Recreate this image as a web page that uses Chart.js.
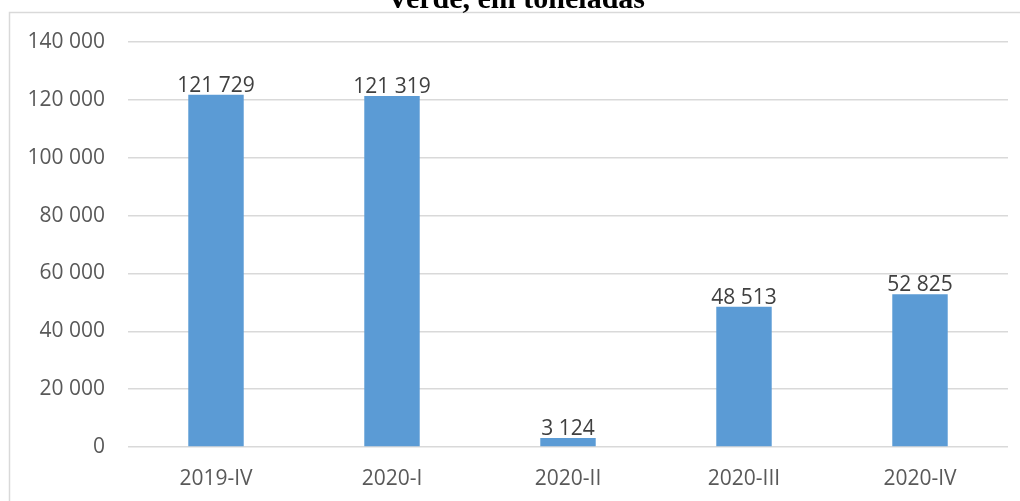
<!DOCTYPE html>
<html>
<head>
<meta charset="utf-8">
<script src="https://cdn.jsdelivr.net/npm/chart.js@4"></script>
<style>
  html, body { margin: 0; padding: 0; background: #fff; }
  #wrap { position: relative; width: 1020px; height: 501px; }
</style>
</head>
<body>
<div id="wrap"><canvas id="chart"></canvas></div>
<script>
/* ===== DATA ===== */
const categories = ['2019-IV', '2020-I', '2020-II', '2020-III', '2020-IV'];
const tonnes = [121729, 121319, 3124, 48513, 52825];
const yTicks = [0, 20000, 40000, 60000, 80000, 100000, 120000, 140000];
const titleLine = 'Verde, em toneladas';

const fmt = v => String(v).replace(/\B(?=(\d{3})+(?!\d))/g, ' ');

// frame + cropped title line
const framePlugin = {
  id: 'frame',
  beforeDraw(chart) {
    const c = chart.ctx;
    c.save();
    c.strokeStyle = '#d9d9d9';
    c.lineWidth = 1.5;
    c.strokeRect(9.5, 12.5, 1200, 700);
    c.restore();
  },
  afterDraw(chart) {
    const c = chart.ctx;
    c.save();
    c.font = 'bold 30px "Liberation Serif", "Times New Roman", serif';
    c.fillStyle = '#000';
    c.textAlign = 'center';
    c.textBaseline = 'alphabetic';
    c.fillText(titleLine, 516, 8);
    c.restore();
  }
};

// value labels above bars
const valuePlugin = {
  id: 'values',
  afterDatasetsDraw(chart) {
    const c = chart.ctx;
    const meta = chart.getDatasetMeta(0);
    c.save();
    c.font = '21px "Open Sans", sans-serif';
    c.fillStyle = '#404040';
    c.textAlign = 'center';
    c.textBaseline = 'alphabetic';
    meta.data.forEach((bar, i) => {
      c.fillText(fmt(tonnes[i]), bar.x, bar.y - 3);
    });
    c.restore();
  }
};

new Chart(document.getElementById('chart'), {
  type: 'bar',
  data: {
    labels: categories,
    datasets: [{
      data: tonnes,
      backgroundColor: '#5b9bd5',
      borderWidth: 0,
      categoryPercentage: 1,
      barPercentage: 0.315
    }]
  },
  options: {
    responsive: true,
    maintainAspectRatio: false,
    animation: false,
    layout: { padding: { top: 42, right: 12, left: 0, bottom: 0 } },
    plugins: {
      legend: { display: false },
      tooltip: { enabled: false },
      title: { display: false }
    },
    scales: {
      x: {
        grid: { display: false, drawTicks: false },
        border: { display: false },
        ticks: {
          color: '#595959',
          font: { family: 'Open Sans', size: 21 },
          padding: 19
        },
        afterFit(scale) { scale.height = 54; }
      },
      y: {
        min: 0,
        max: 140000,
        afterBuildTicks(scale) { scale.ticks = yTicks.map(v => ({ value: v })); },
        grid: { color: '#d9d9d9', lineWidth: 1.5, drawTicks: false },
        border: { display: false },
        ticks: {
          color: '#595959',
          font: { family: 'Open Sans', size: 21 },
          padding: 23,
          callback: v => fmt(v)
        },
        afterFit(scale) { scale.width = 128; }
      }
    }
  },
  plugins: [framePlugin, valuePlugin]
});
</script>
</body>
</html>
